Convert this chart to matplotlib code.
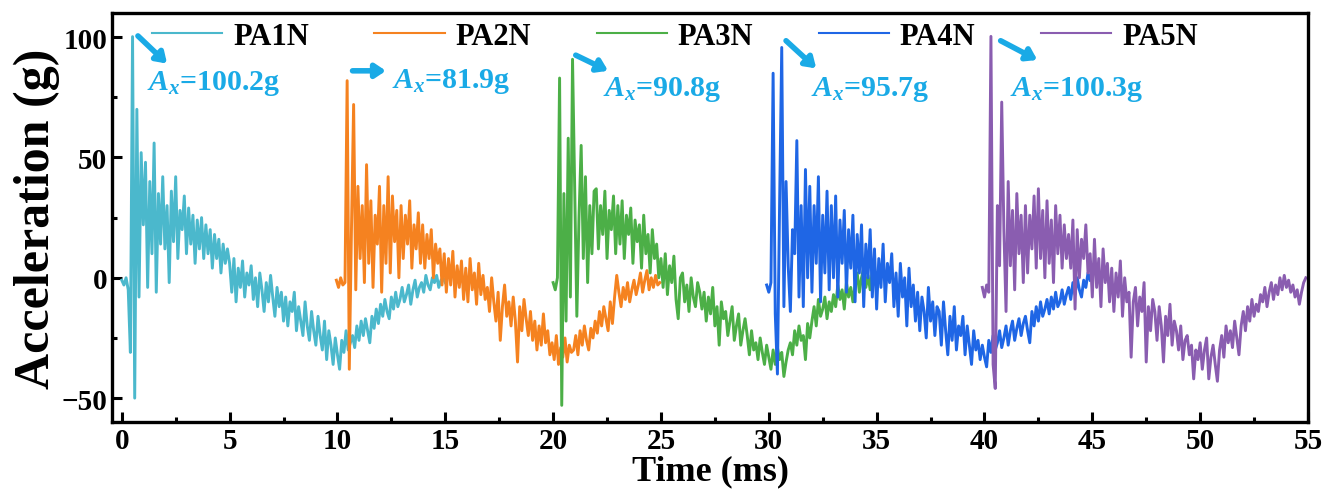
import matplotlib.pyplot as plt
import numpy as np

plt.rcParams['font.family'] = ['Liberation Serif', 'DejaVu Serif']
plt.rcParams['font.weight'] = 'bold'
plt.rcParams['mathtext.fontset'] = 'custom'
plt.rcParams['mathtext.it'] = 'Liberation Serif:italic:bold'
plt.rcParams['mathtext.rm'] = 'Liberation Serif:bold'

# sampling step (ms) and start time of each record
DT = 0.1
labels = ['PA1N', 'PA2N', 'PA3N', 'PA4N', 'PA5N']
t_start = [0.0, 9.95, 20.0, 29.9, 39.9]
colors = ['#4BB8CC', '#F58220', '#4CAF47', '#1F66E5', '#8A5DB0']

# acceleration (g), one row per millisecond
pa1n = [
    -1, -3, 0, -5, -31, 100.2, -50, 70, -8, 52,
    22, 48, -4, 40, 10, 56, -6, 35, 14, 42,
    12, 30, -2, 36, 15, 42, 8, 28, 20, 34,
    10, 29, 14, 26, 6, 24, 12, 25, 8, 22,
    10, 20, 4, 18, 8, 16, 2, 14, 6, 12,
    6, -6, 8, -10, 4, -4, 7, -8, 2, -3,
    5, -9, 0, -12, 2, -5, -14, -2, -10, 1,
    -8, -16, -4, -12, -6, -18, -8, -20, -10, -14,
    -6, -22, -12, -18, -24, -10, -20, -26, -14, -22,
    -28, -16, -24, -30, -18, -34, -22, -28, -36, -25,
    -32, -38, -26, -31, -22, -30, -27, -24, -29, -20,
    -26, -18, -24, -17, -22, -27, -16, -21, -13, -19,
    -11, -16, -9, -14, -17, -8, -13, -6, -12, -9,
    -4, -10, -7, -3, -11, -5, -1, -8, -4, -2,
    -6, 1, -3, -5, 0, -2, 1, -4, -1, 0,
    -2,
]
pa2n = [
    -1, -4, 0, -3, -2, 81.9, -38, 20, 72, -5,
    38, 8, 30, -2, 47, 6, 32, -4, 26, 14,
    38, -6, 30, 6, 42, 2, 34, 15, 28, 0,
    30, 8, 26, 14, 32, 4, 22, 12, 27, 6,
    22, 4, 18, 8, 20, 0, 14, 6, 12, -3,
    10, -6, 8, -3, 11, -8, 5, -4, 7, -9,
    4, -10, 8, -5, 2, -11, 6, -7, 1, -9,
    -4, -14, 0, -10, -18, -6, -26, -12, -3, -16,
    -10, -20, -8, -18, -35, -12, -22, -9, -17, -24,
    -14, -26, -18, -30, -20, -28, -15, -27, -22, -32,
    -27, -34, -24, -36, -29, -33, -25, -35, -28, -31,
    -30, -24, -32, -22, -28, -20, -26, -30, -21, -25,
    -18, -23, -14, -20, -12, -17, -22, -10, -19, -8,
    1, -6, -12, -4, -9, -2, -10, -5, -1, -7,
    -3, 2, -6, -1, 3, -5, 0, -4, 1, -3,
    -2,
]
pa3n = [
    -2, -5, 0, 83, -53, 35, -18, 58, -8, 90.8,
    38, -16, 25, 55, 8, 42, -2, 30, 10, 36,
    37, 12, 30, 18, 36, 8, 28, 20, 34, 10,
    30, 14, 32, 8, 26, 18, 29, 6, 24, 15,
    22, 4, 26, 10, 18, 2, 20, 8, 14, 0,
    8, -4, 10, -7, 5, -2, 9, -9, -17, 0,
    2, -10, -3, -14, 0, -8, -12, -2, -6, -13,
    -6, -18, -8, -15, -4, -20, -12, -28, -10, -17,
    -14, -24, -18, -12, -26, -20, -15, -28, -22, -17,
    -24, -32, -22, -30, -27, -34, -25, -31, -36, -28,
    -33, -38, -30, -36, -29, -34, -31, -41, -35, -30,
    -27, -32, -22, -28, -20, -26, -24, -34, -19, -25,
    -18, -12, -20, -9, -16, -13, -8, -17, -10, -14,
    -7, -12, -3, -9, -5, -13, -2, -8, -4, -10,
    -3, 2, -6, 0, 4, -4, 1, -5, 3, -1,
    2,
]
pa4n = [
    -3, -6, -2, 85, -15, -40, 30, 95.7, -12, 40,
    5, -14, 20, 10, 57, -8, 30, -12, 45, 0,
    38, -6, 30, 6, 42, -10, 26, 2, 36, -5,
    30, 0, 34, -8, 24, 6, 28, -6, 20, 4,
    26, -10, 18, 2, 22, -12, 14, 0, 20, -8,
    12, -13, 8, -4, 14, -10, 6, -2, 10, -12,
    2, -16, 6, -8, 0, -20, 4, -12, -3, -18,
    -6, -22, -8, -14, -25, -4, -18, -10, -24, -12,
    -14, -28, -10, -22, -32, -16, -26, -12, -30, -20,
    -24, -16, -32, -20, -28, -36, -22, -30, -26, -34,
    -28, -33, -37, -26, -31, -24, -30, -27, -22, -29,
    -25, -20, -28, -22, -18, -26, -21, -17, -24, -19,
    -16, -22, -27, -14, -20, -12, -18, -10, -16, -13,
    -9, -15, -8, -13, -6, -12, -10, -5, -11, -7,
    -4, -9, -2, -7, 0, -5, -8, -1, -4, 2,
    -1,
]
pa5n = [
    -4, -8, -3, -6, 100.3, -36, -46, 30, 5, 73,
    20, -14, 40, 5, 28, -5, 35, 10, 26, -2,
    30, 2, 26, 12, 34, 4, 37, 8, 28, 0,
    32, 6, 24, -2, 30, 10, 26, 4, 22, 8,
    18, 4, 24, -13, 20, 0, 16, 8, 22, 2,
    10, -8, 16, -4, 8, -12, 12, -2, 6, -10,
    4, -14, 2, -8, 7, -16, 0, -10, -6, -33,
    -10, -4, -20, -8, -14, -2, -35, -12, -22, -9,
    -14, -26, -12, -20, -35, -16, -24, -11, -28, -18,
    -22, -30, -20, -34, -26, -24, -32, -28, -42, -30,
    -34, -27, -38, -30, -25, -42, -33, -28, -36, -43,
    -30, -24, -33, -20, -27, -22, -29, -18, -25, -32,
    -20, -14, -22, -12, -18, -9, -16, -11, -14, -7,
    -10, -4, -12, -6, -2, -9, -3, -7, 0, -5,
    1, -4, -1, -6, -3, -8, -5, -11, -6, -2,
    0,
]
series = [pa1n, pa2n, pa3n, pa4n, pa5n]

# peak annotations: text, text position, arrow tail, arrow head
peak_text = ['$A_x$=100.2g', '$A_x$=81.9g', '$A_x$=90.8g', '$A_x$=95.7g', '$A_x$=100.3g']
text_xy = [(1.15, 81), (12.55, 82), (22.3, 78.5), (31.95, 78.5), (41.2, 78.5)]
arrow_from = [(0.75, 100.5), (10.7, 86), (21.05, 92.5), (30.8, 98.5), (40.75, 98.5)]
arrow_to = [(2.1, 89), (12.25, 86), (22.55, 86), (32.2, 87), (42.45, 90.5)]
ann_color = '#1AAAE6'

fig = plt.figure(figsize=(13.34, 5.02), dpi=100)
ax = fig.add_axes([0.084, 0.157, 0.8965, 0.815])

for y, t0, c, lab in zip(series, t_start, colors, labels):
    t = t0 + DT * np.arange(len(y))
    ax.plot(t, y, color=c, lw=2.1, label=lab)

for s, txy, a0, a1 in zip(peak_text, text_xy, arrow_from, arrow_to):
    ax.text(txy[0], txy[1], s, color=ann_color, fontsize=21.5,
            fontweight='bold', ha='left', va='center')
    ax.annotate('', xy=a1, xytext=a0,
                arrowprops=dict(arrowstyle='-|>,head_length=0.6,head_width=0.4',
                                lw=4, color=ann_color, shrinkA=0, shrinkB=0))

ax.set_xlim(-0.45, 55)
ax.set_ylim(-60, 110)
ax.set_xticks(np.arange(0, 56, 5))
ax.set_yticks([-50, 0, 50, 100])
ax.set_xticks(np.arange(2.5, 55, 5), minor=True)
ax.set_yticks([-25, 25, 75], minor=True)
ax.tick_params(which='both', direction='in', width=2.2, labelsize=21)
ax.tick_params(which='major', length=7)
ax.tick_params(which='minor', length=3.5)
for sp in ax.spines.values():
    sp.set_linewidth(2.4)

ax.set_xlabel('Time (ms)', fontsize=26, fontweight='bold', labelpad=0)
ax.set_ylabel('Acceleration (g)', fontsize=36, fontweight='bold', labelpad=1)

leg = ax.legend(loc='upper left', bbox_to_anchor=(0.0334, 0.978), ncol=5,
                frameon=False, fontsize=22, handlelength=2.3,
                handletextpad=0.35, columnspacing=2.15,
                borderaxespad=0, borderpad=0)
for h in leg.get_lines():
    h.set_linewidth(1.5)

fig.savefig('out.png', dpi=100)
